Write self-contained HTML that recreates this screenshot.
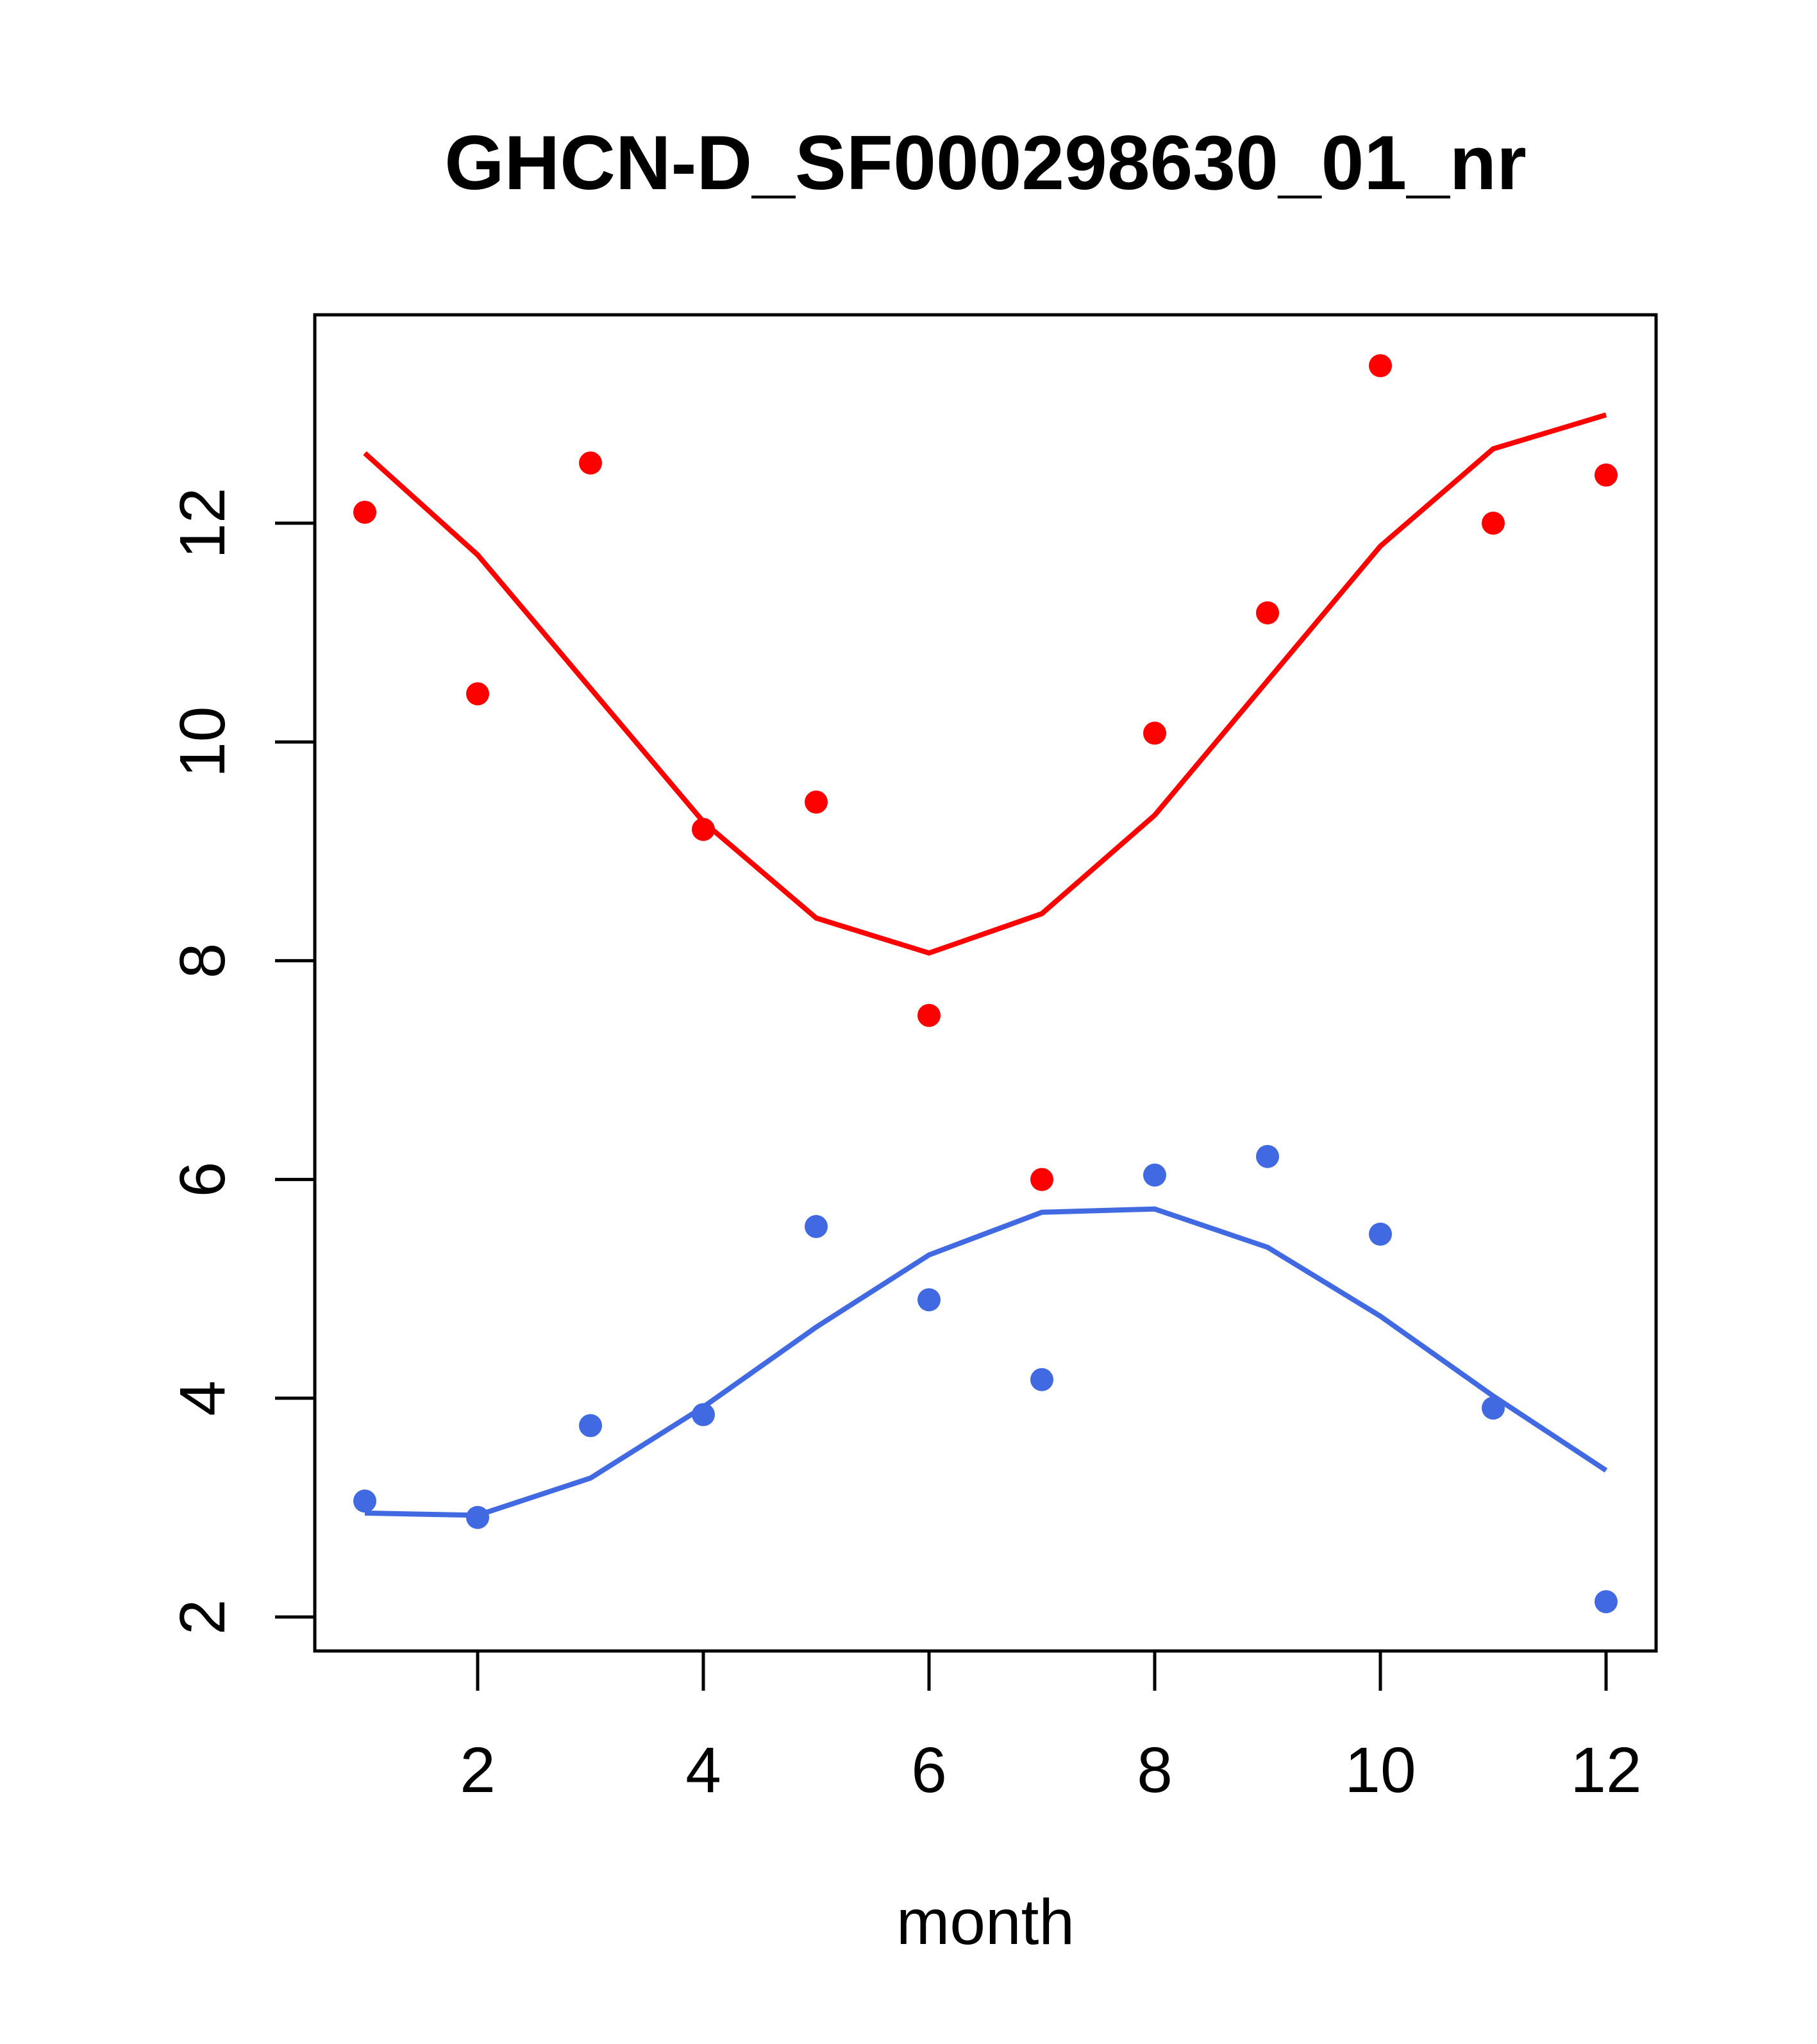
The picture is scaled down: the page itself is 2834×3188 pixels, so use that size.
<!DOCTYPE html>
<html><head><meta charset="utf-8"><style>
html,body{margin:0;padding:0;background:#fff}
svg{display:block}
text{font-family:"Liberation Sans",Arial,sans-serif}
</style></head><body>
<svg id="chart" width="2834" height="3188" viewBox="0 0 2834 3188">
<text x="1537" y="295" font-size="120" font-weight="bold" text-anchor="middle">GHCN-D_SF000298630_01_nr</text>
<text x="1537" y="3032" font-size="100" text-anchor="middle">month</text>
<g id="axes"></g>
<g id="marks"></g>
<rect x="491" y="491" width="2092" height="2084" fill="none" stroke="#000" stroke-width="5"/>
</svg>
<script>
const months=[1,2,3,4,5,6,7,8,9,10,11,12];
const redPoints=[12.1,10.44,12.55,9.2,9.45,7.5,6.0,10.08,11.18,13.44,12.0,12.44];
const redLine=[12.64,11.71,10.49,9.27,8.39,8.07,8.43,9.33,10.56,11.79,12.68,12.99];
const bluePoints=[3.06,2.91,3.75,3.85,5.57,4.9,4.17,6.04,6.21,5.5,3.91,2.14];
const blueLine=[2.95,2.93,3.27,3.92,4.65,5.31,5.70,5.73,5.38,4.75,4.02,3.34];
const xTicks=[2,4,6,8,10,12];
const yTicks=[2,4,6,8,10,12];
const NS='http://www.w3.org/2000/svg';
function X(m){return 569+(m-1)*176;}
function Y(v){return 2522-(v-2)*170.6;}
const axes=document.getElementById('axes'),marks=document.getElementById('marks');
function mk(t,a,p){const e=document.createElementNS(NS,t);for(const k in a)e.setAttribute(k,a[k]);p.appendChild(e);return e;}
xTicks.forEach(t=>{
 const l=mk('line',{x1:X(t),x2:X(t),y1:2575,y2:2637,stroke:'#000','stroke-width':5},axes);
 
 
 const tx=mk('text',{x:X(t),y:2795,'font-size':100,'text-anchor':'middle'},axes);tx.textContent=t;
 
 
});
yTicks.forEach(t=>{
 const l=mk('line',{x1:429,x2:491,y1:Y(t),y2:Y(t),stroke:'#000','stroke-width':5},axes);
 
 
 const tx=mk('text',{x:350,y:Y(t),'font-size':100,'text-anchor':'middle',transform:`rotate(-90 350 ${Y(t)})`},axes);tx.textContent=t;
 
 
});
function series(pts,line,col,name){
 const pl=mk('polyline',{points:line.map((v,i)=>X(months[i])+','+Y(v)).join(' '),fill:'none',stroke:col,'stroke-width':8},marks);
 
 
 pts.forEach((v,i)=>{
  const c=mk('circle',{cx:X(months[i]),cy:Y(v),r:18,fill:col},marks);
  
  
 });
}
series(redPoints,redLine,'#ff0000','red');
series(bluePoints,blueLine,'#4169e1','blue');
</script>
</body></html>
